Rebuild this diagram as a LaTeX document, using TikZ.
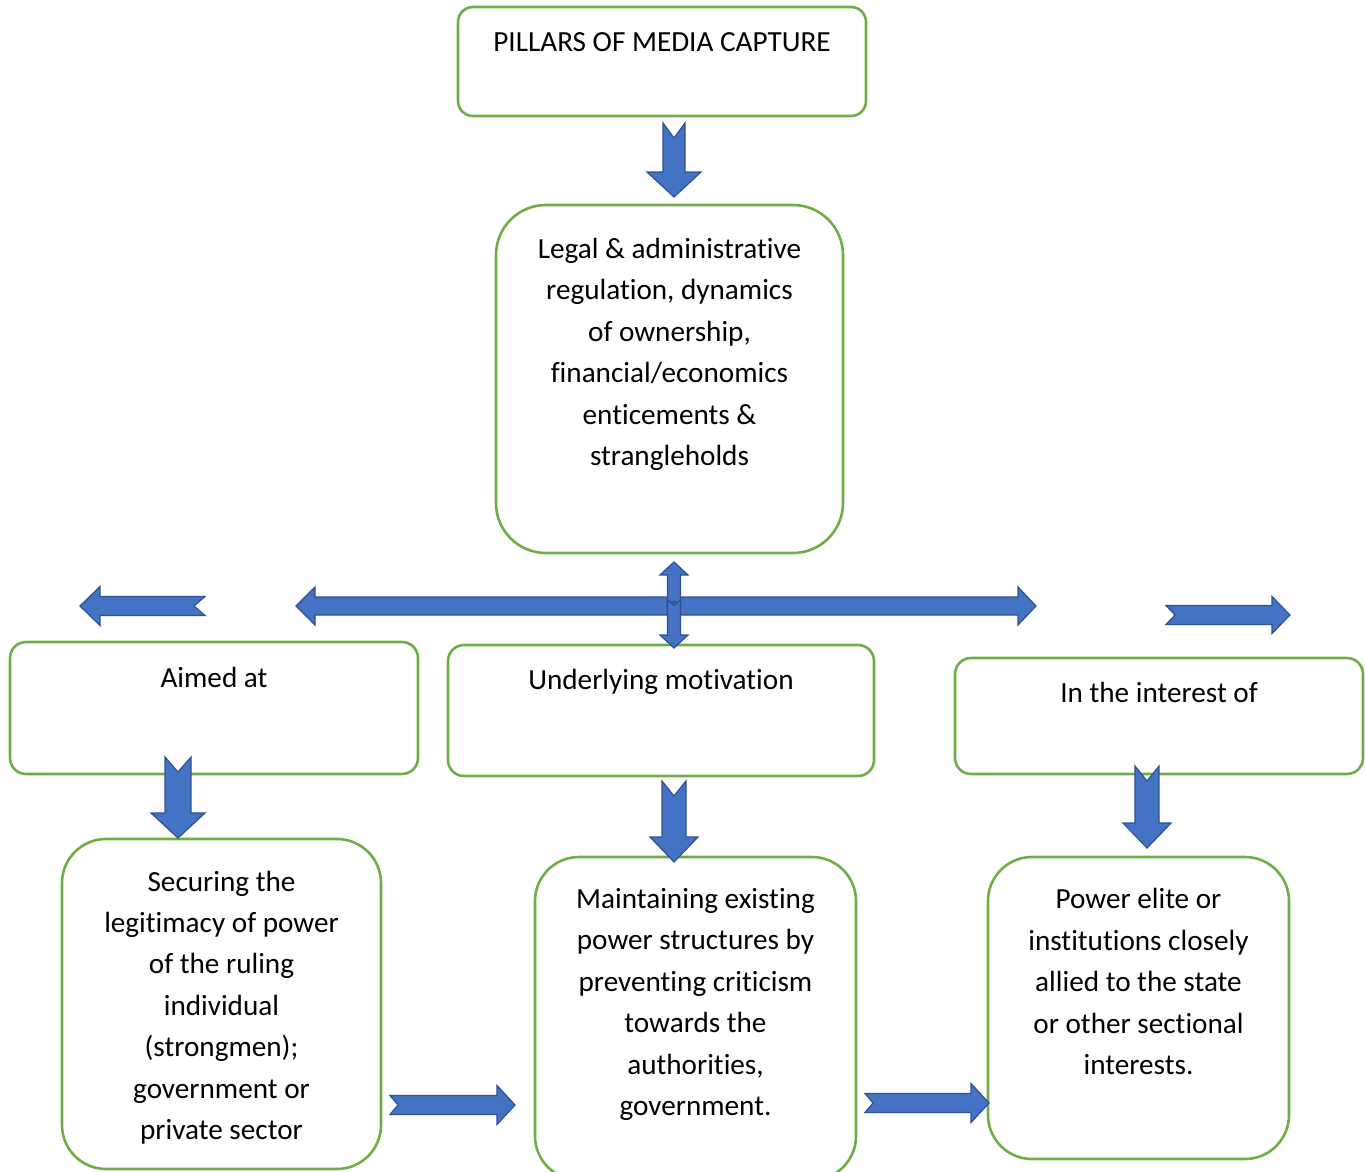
\documentclass[tikz,border=0pt]{standalone}
\usepackage{fontspec}
\setmainfont{Carlito}[Ligatures=NoCommon]

\definecolor{boxgreen}{HTML}{70AD47}
\definecolor{arrowblue}{HTML}{4472C4}
\definecolor{arrowedge}{HTML}{2F528F}

\tikzset{
  pillarbox/.style={draw=boxgreen, line width=1.3pt, rounded corners=#1},
  pillartext/.style={anchor=base, align=center, inner sep=0pt,
    font=\fontsize{14.6}{20.7}\selectfont},
  blockarrow/.style={fill=arrowblue, draw=arrowedge, line width=0.6pt, line join=miter}
}

% notched block arrow: x, y (tail), angle, length, shaft, head, head length, notch
\newcommand{\notcharrow}[8]{%
  \begin{scope}[shift={(#1,#2)},rotate=#3]
    \draw[blockarrow] (0,#5) -- (#4-#7,#5) -- (#4-#7,#6) -- (#4,0)
      -- (#4-#7,-#6) -- (#4-#7,-#5) -- (0,-#5) -- (#8,0) -- cycle;
  \end{scope}}

\begin{document}
\begin{tikzpicture}[x=0.5pt,y=-0.5pt]
  \useasboundingbox (0,0) rectangle (1365,1172);

  %-------------------------
  % Cajas
  %-------------------------
  \draw[pillarbox=7.5pt] (458,7) rectangle (866,116);      % titulo
  \draw[pillarbox=25pt]  (496,205) rectangle (843,553);    % regulacion
  \draw[pillarbox=8pt]   (10,642) rectangle (418,774);     % aimed at
  \draw[pillarbox=8pt]   (448,645) rectangle (874,776);    % motivation
  \draw[pillarbox=8pt]   (955,658) rectangle (1363,774);   % interest
  \draw[pillarbox=22pt]  (62,839) rectangle (381,1169);    % securing
  \draw[pillarbox=22pt]  (535,857) rectangle (856,1180);   % maintaining
  \draw[pillarbox=22pt]  (988,857) rectangle (1289,1159);  % power elite

  %-------------------------
  % Textos (base = ultima linea)
  %-------------------------
  \node[pillartext] (title) at (662,51.5) {PILLARS OF MEDIA CAPTURE};
  \node[pillartext] (legal) at (669.5,465.5)
    {Legal \& administrative\\regulation, dynamics\\of ownership,\\financial/economics\\enticements \&\\strangleholds};
  \node[pillartext] (aimed) at (214,687.5) {Aimed at};
  \node[pillartext] (motive) at (661,689.5) {Underlying motivation};
  \node[pillartext] (interest) at (1159,702.5) {In the interest of};
  \node[pillartext] (securing) at (221.5,1139.5)
    {Securing the\\legitimacy of power\\of the ruling\\individual\\(strongmen);\\government or\\private sector};
  \node[pillartext] (maintain) at (695.5,1115.5)
    {Maintaining existing\\power structures by\\preventing criticism\\towards the\\authorities,\\government.};
  \node[pillartext] (elite) at (1138.5,1074.5)
    {Power elite or\\institutions closely\\allied to the state\\or other sectional\\interests.};

  %-------------------------
  % Flechas hacia abajo
  %-------------------------
  \notcharrow{674}{123}{-90}{74}{11}{27}{25}{15}
  \notcharrow{178}{757}{-90}{81}{13}{27}{25}{15}
  \notcharrow{674}{781}{-90}{81}{12}{24}{25}{15}
  \notcharrow{1147}{766}{-90}{82}{12}{24}{25}{15}

  %-------------------------
  % Flecha doble horizontal
  %-------------------------
  \draw[blockarrow] (296,606) -- (315,587) -- (315,597) -- (1018,597)
    -- (1018,587) -- (1036,606) -- (1018,625) -- (1018,615)
    -- (315,615) -- (315,625) -- cycle;

  % flecha doble vertical
  \notcharrow{674}{606}{90}{44}{6.5}{14}{13}{5}
  \notcharrow{674}{600}{-90}{48}{6.5}{14}{13}{5}

  %-------------------------
  % Flechas laterales
  %-------------------------
  \notcharrow{205}{606}{180}{125}{9.5}{19.5}{20}{11}
  \notcharrow{1166}{615}{0}{124}{9.5}{18.5}{18}{9}
  \notcharrow{390}{1105}{0}{125}{9.5}{19.5}{18}{8}
  \notcharrow{865}{1103}{0}{124}{9.5}{19.5}{18}{8}

\end{tikzpicture}
\end{document}
